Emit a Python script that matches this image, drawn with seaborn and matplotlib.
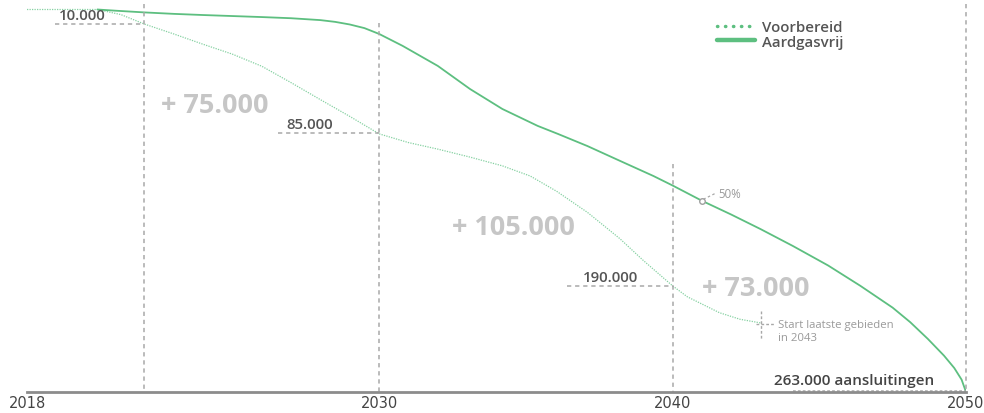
import matplotlib
matplotlib.use("Agg")
import matplotlib.pyplot as plt
from matplotlib.lines import Line2D
import seaborn as sns
import pandas as pd

# ---- data ----
voorbereid_years = [2018.0, 2020.4, 2021.2, 2022.0, 2023.0, 2024.0, 2025.0, 2026.0, 2027.0,
                    2028.0, 2029.0, 2030.0, 2031.0, 2032.0, 2033.1, 2034.2, 2035.15, 2036.05,
                    2037.1, 2038.2, 2039.0, 2040.0, 2040.5, 2041.6, 2042.3, 2043.0]
voorbereid_values = [0, 0, 3500, 10000, 16800, 23900, 30700, 39000, 50300,
                     62000, 73500, 85500, 91500, 96000, 101500, 107500, 114500, 125000,
                     139500, 157500, 172500, 190000, 197500, 208500, 213000, 215500]

aardgasvrij_years = [2020.4, 2021.0, 2022.0, 2023.0, 2024.0, 2025.0, 2026.0, 2027.0, 2028.0,
                     2028.5, 2029.0, 2029.5, 2030.0, 2030.8, 2032.0, 2033.1, 2034.2, 2035.4,
                     2036.1, 2037.1, 2038.2, 2039.35, 2040.0, 2041.0, 2042.0, 2043.0, 2044.1,
                     2045.3, 2046.4, 2047.5, 2048.1, 2048.7, 2049.25, 2049.6, 2049.85, 2050.0]
aardgasvrij_values = [0, 800, 2000, 3000, 3800, 4500, 5200, 6000, 7300,
                      8500, 10300, 12800, 16800, 25000, 38800, 54700, 68400, 80000,
                      85600, 93900, 104000, 114500, 121000, 131500, 141000, 151000, 162600,
                      176000, 190000, 205000, 215000, 226500, 238000, 246500, 254500, 263000]

series_names = ["Voorbereid", "Aardgasvrij"]
tick_years = [2018, 2030, 2040, 2050]
milestone_labels = ["10.000", "85.000", "190.000"]
milestone_years = [2022, 2030, 2040]
milestone_values = [10000, 85000, 190000]
increment_labels = ["+ 75.000", "+ 105.000", "+ 73.000"]
total_label = "263.000 aansluitingen"
total_value = 263000

# ---- style ----
sns.set_theme(style="white")
plt.rcParams['font.family'] = ['Open Sans', 'DejaVu Sans']

GREEN = "#5dbf80"
LIGHT_GREEN = "#86d1a2"
GRAY_DASH = "#a8a8a8"
DARK_TXT = "#555555"
BIG_TXT = "#c6c6c6"
SMALL_TXT = "#9a9a9a"

df = pd.concat([
    pd.DataFrame({"jaar": voorbereid_years, "aantal": voorbereid_values, "serie": series_names[0]}),
    pd.DataFrame({"jaar": aardgasvrij_years, "aantal": aardgasvrij_values, "serie": series_names[1]}),
])

fig = plt.figure(figsize=(9.84, 4.14), dpi=100)
ax = fig.add_axes([27 / 984, 21 / 414, (966 - 27) / 984, 393 / 414])

sns.lineplot(data=df[df.serie == "Voorbereid"], x="jaar", y="aantal", ax=ax,
             color=LIGHT_GREEN, lw=0.9, linestyle=(0, (1, 1)), legend=False, sort=False)
sns.lineplot(data=df[df.serie == "Aardgasvrij"], x="jaar", y="aantal", ax=ax,
             color=GREEN, lw=1.3, legend=False, sort=False)

ax.set_xlim(2018, 2050)
ax.set_ylim(total_value, -7220)

dash = dict(color=GRAY_DASH, lw=1.1, linestyle=(0, (2.8, 2.5)), clip_on=False)

# vertical guide lines
ax.plot([2022, 2022], [-3800, total_value], **dash)
ax.plot([2030, 2030], [9300, total_value], **dash)
ax.plot([2040, 2040], [106000, total_value], **dash)
ax.plot([2050, 2050], [-3800, total_value], **dash)

# horizontal milestone lines
h_starts = [2018.95, 2026.56, 2036.4]
for x0, xe, v in zip(h_starts, milestone_years, milestone_values):
    ax.plot([x0, xe], [v, v], **dash)

txt_kw = dict(color=DARK_TXT, fontsize=10.8, fontweight="semibold")
ax.text(2019.1, 8700, milestone_labels[0], ha="left", va="bottom", **txt_kw)
ax.text(2026.85, 83700, milestone_labels[1], ha="left", va="bottom", **txt_kw)
ax.text(2036.95, 188500, milestone_labels[2], ha="left", va="bottom", **txt_kw)

big_kw = dict(color=BIG_TXT, fontsize=19.5, fontweight="bold", va="center", ha="left")
ax.text(2022.55, 65500, increment_labels[0], **big_kw)
ax.text(2032.5, 149500, increment_labels[1], **big_kw)
ax.text(2041.0, 191500, increment_labels[2], **big_kw)

# 50% marker
ax.plot([2041.0], [131500], marker="o", ms=4, mfc="white", mec="#a0a0a0", mew=1.0, zorder=5)
ax.plot([2041.05, 2041.45], [130500, 126500], color=GRAY_DASH, lw=0.9, linestyle=(0, (2, 2)))
ax.text(2041.55, 126300, "50%", color=SMALL_TXT, fontsize=8.3, ha="left", va="center")

# start laatste gebieden marker
ax.plot([2043, 2043], [207000, 227000], color=GRAY_DASH, lw=1.0, linestyle=(0, (2, 1.5)))
ax.plot([2042.85, 2043.5], [216000, 216000], color=GRAY_DASH, lw=1.0, linestyle=(0, (2, 1.5)))
ax.text(2043.6, 221000, "Start laatste gebieden\nin 2043", color=SMALL_TXT, fontsize=8.2,
        ha="left", va="center", linespacing=1.25)

# total line
ax.plot([2044.1, 2050], [262000, 262000], color=GRAY_DASH, lw=1.1, linestyle=(0, (1.8, 1.4)), clip_on=False)
ax.text(2043.45, 259800, total_label, color="#444444", fontsize=11, fontweight="semibold",
        ha="left", va="bottom")

# axes styling
for s in ["left", "top", "right"]:
    ax.spines[s].set_visible(False)
ax.spines["bottom"].set_color("#8c8c8c")
ax.spines["bottom"].set_linewidth(2.0)
ax.set_yticks([])
ax.set_xticks(tick_years)
ax.set_xticklabels([str(t) for t in tick_years], family=['Liberation Sans Narrow', 'DejaVu Sans'],
                   fontsize=10.5, color="#444444")
ax.tick_params(axis="x", length=0, pad=2)
ax.set_xlabel("")
ax.set_ylabel("")

# legend
handles = [
    Line2D([], [], color=GREEN, lw=2.5, linestyle=(0, (0.1, 2.2)), dash_capstyle="round"),
    Line2D([], [], color=GREEN, lw=3.2),
]
fig.legend(handles, series_names, loc="upper left", bbox_to_anchor=(709 / 984, 1 - 14 / 414),
           frameon=False, handlelength=2.55, handletextpad=0.45, labelspacing=0.0,
           prop={"size": 10.8, "weight": "semibold"}, labelcolor=DARK_TXT, borderpad=0)

fig.savefig("out.png", dpi=100)
